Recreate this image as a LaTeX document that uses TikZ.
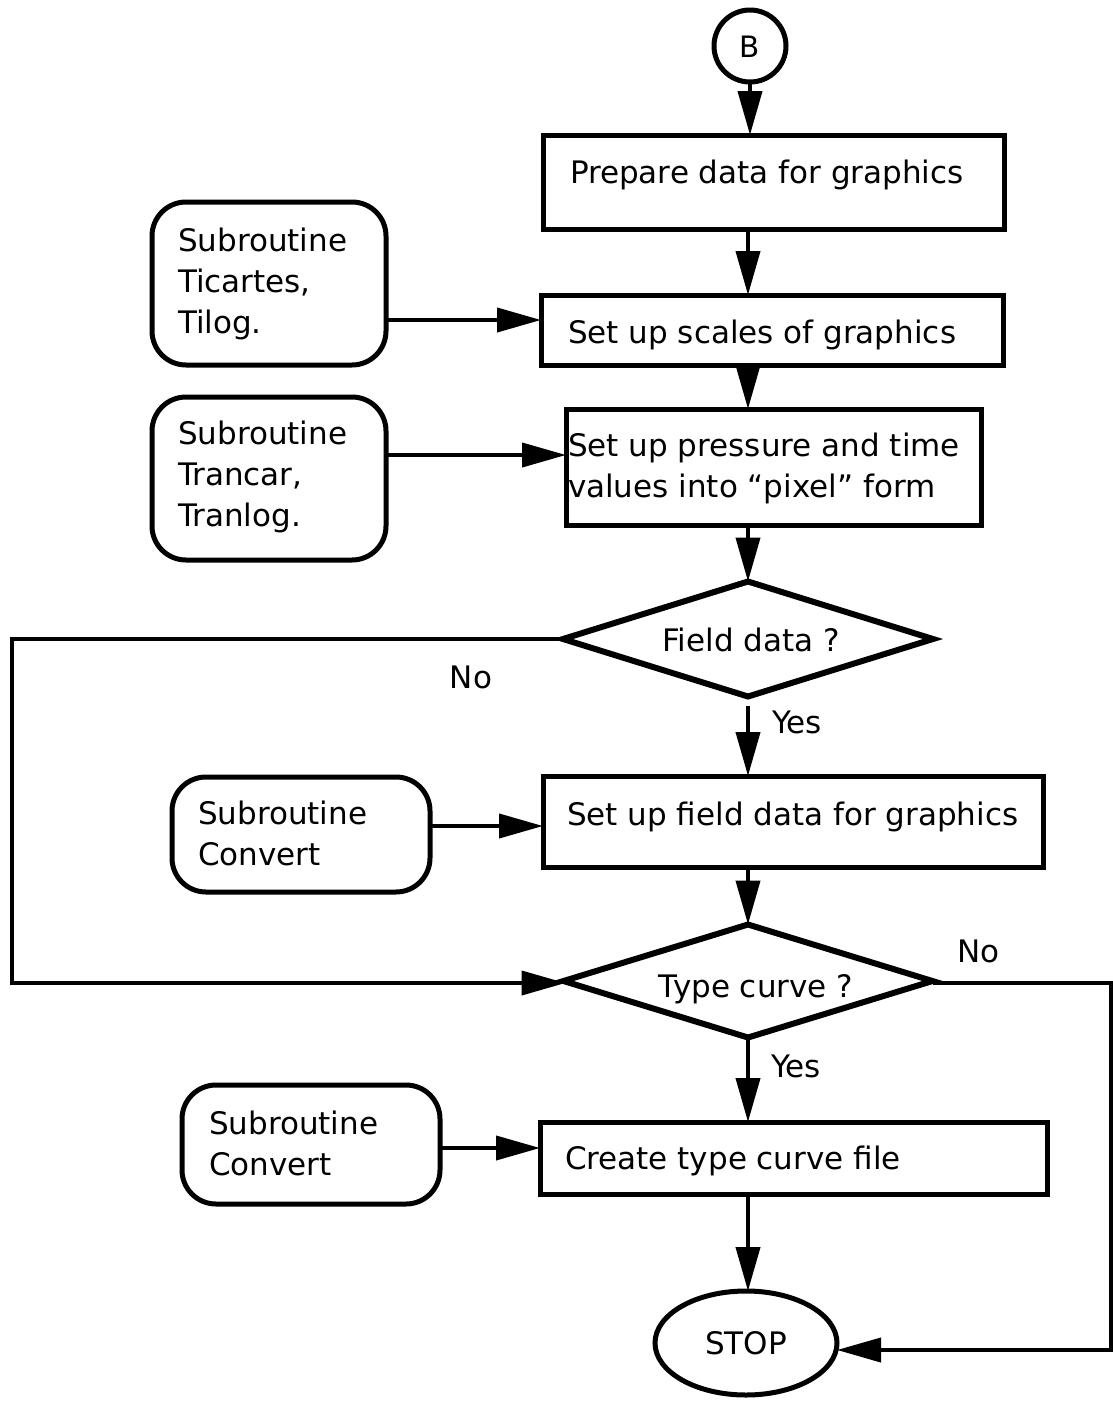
\documentclass[tikz,border=0pt]{standalone}
\usepackage{fontspec}
\setmainfont{DejaVu Sans}
\usetikzlibrary{arrows.meta,shapes.geometric}

\begin{document}
\begin{tikzpicture}[x=1pt,y=-1pt,
  every node/.style={inner sep=0pt, outer sep=0pt},
  lbl/.style={font=\fontsize{31pt}{41pt}\selectfont},
  procbox/.style={draw, line width=5pt, rectangle},
  subbox/.style={draw, line width=5pt, rectangle, rounded corners=34pt},
  decide/.style={draw, line width=6pt, diamond},
  arr/.style={line width=4pt, -{Triangle[length=44pt,width=24pt]}}]
\useasboundingbox (0,0) rectangle (1112,1401);

% helper levels for horizontal connectors and the loop columns
\coordinate (col) at (748,0);
\coordinate (lx) at (12,0);
\coordinate (rx) at (1111,0);
\coordinate (r1) at (0,320);
\coordinate (r2) at (0,455);
\coordinate (r3) at (0,826);
\coordinate (r4) at (0,1148);

% connector B
\node[draw, circle, line width=5pt, minimum size=72pt] (b) at (750,46) {};
\node[lbl, scale=0.95] (bt) at (750,47) {B};

% main process column
\node[procbox, minimum width=461pt, minimum height=94pt] (p1) at (773.5,182) {};
\node[lbl, anchor=base west] (p1t) at (570,183) {Prepare data for graphics};

\node[procbox, minimum width=462pt, minimum height=70pt] (p2) at (772,330) {};
\node[lbl, anchor=base west] (p2t) at (568,343) {Set up scales of graphics};

\node[procbox, minimum width=415pt, minimum height=116pt] (p3) at (773.5,467) {};
\node[lbl, align=left, anchor=west] (p3t) at (568,468)
  {Set up pressure and time\\values into “pixel” form};

\node[decide, minimum width=370pt, minimum height=115pt] (d1) at (748,639) {};
\node[lbl, anchor=base] (d1t) at (751,651) {Field data ?};

\node[procbox, minimum width=500pt, minimum height=91pt] (p4) at (793,821.5) {};
\node[lbl, anchor=base west] (p4t) at (567,825) {Set up field data for graphics};

\node[decide, minimum width=369pt, minimum height=113pt] (d2) at (748,981) {};
\node[lbl, anchor=base] (d2t) at (756,997) {Type curve ?};

\node[procbox, minimum width=507pt, minimum height=72pt] (p5) at (793.5,1158) {};
\node[lbl, anchor=base west] (p5t) at (565,1169) {Create type curve file};

\node[draw, ellipse, line width=5pt, minimum width=182pt, minimum height=104pt,
      lbl] (stop) at (746,1343) {STOP};

% subroutine boxes
\node[subbox, minimum width=234pt, minimum height=163pt] (s1) at (269,283.5) {};
\node[lbl, align=left, anchor=west] (s1t) at (178,284) {Subroutine\\Ticartes,\\Tilog.};

\node[subbox, minimum width=234pt, minimum height=163pt] (s2) at (269,478.5) {};
\node[lbl, align=left, anchor=west] (s2t) at (178,477) {Subroutine\\Trancar,\\Tranlog.};

\node[subbox, minimum width=258pt, minimum height=115pt] (s3) at (301,834.5) {};
\node[lbl, align=left, anchor=west] (s3t) at (198,833) {Subroutine\\Convert};

\node[subbox, minimum width=258pt, minimum height=119pt] (s4) at (311,1144.5) {};
\node[lbl, align=left, anchor=west] (s4t) at (209,1143) {Subroutine\\Convert};

% branch labels
\node[lbl, anchor=base] (no1) at (471,688) {No};
\node[lbl, anchor=base west] (yes1) at (772,733) {Yes};
\node[lbl, anchor=base west] (no2) at (957,962) {No};
\node[lbl, anchor=base west] (yes2) at (771,1077) {Yes};

% vertical flow
\draw[arr] (b.south) -- (b.south |- p1.north);
\draw[arr] (p1.south -| col) -- (p2.north -| col);
\draw[arr] (p2.south -| col) -- (p3.north -| col);
\draw[arr] (p3.south -| col) -- (d1.north);
\draw[arr, shorten <=9pt] (d1.south) -- (d1.south |- p4.north);
\draw[arr] (p4.south -| col) -- (d2.north);
\draw[arr] (d2.south) -- (d2.south |- p5.north);
\draw[arr] (p5.south -| col) -- (col |- stop.north);

% subroutine inputs
\draw[arr] (s1.east |- r1) -- (p2.west |- r1);
\draw[arr] (s2.east |- r2) -- (p3.west |- r2);
\draw[arr] (s3.east |- r3) -- (p4.west |- r3);
\draw[arr] (s4.east |- r4) -- (p5.west |- r4);

% "No" branches
\draw[arr] (d1.west) -- (d1.west -| lx) |- ([xshift=2pt,yshift=-2pt]d2.west);
\draw[arr] ([yshift=-2pt]d2.east) -- ([yshift=-2pt]d2.east -| rx) |- ([yshift=-7pt]stop.east);
\end{tikzpicture}
\end{document}
